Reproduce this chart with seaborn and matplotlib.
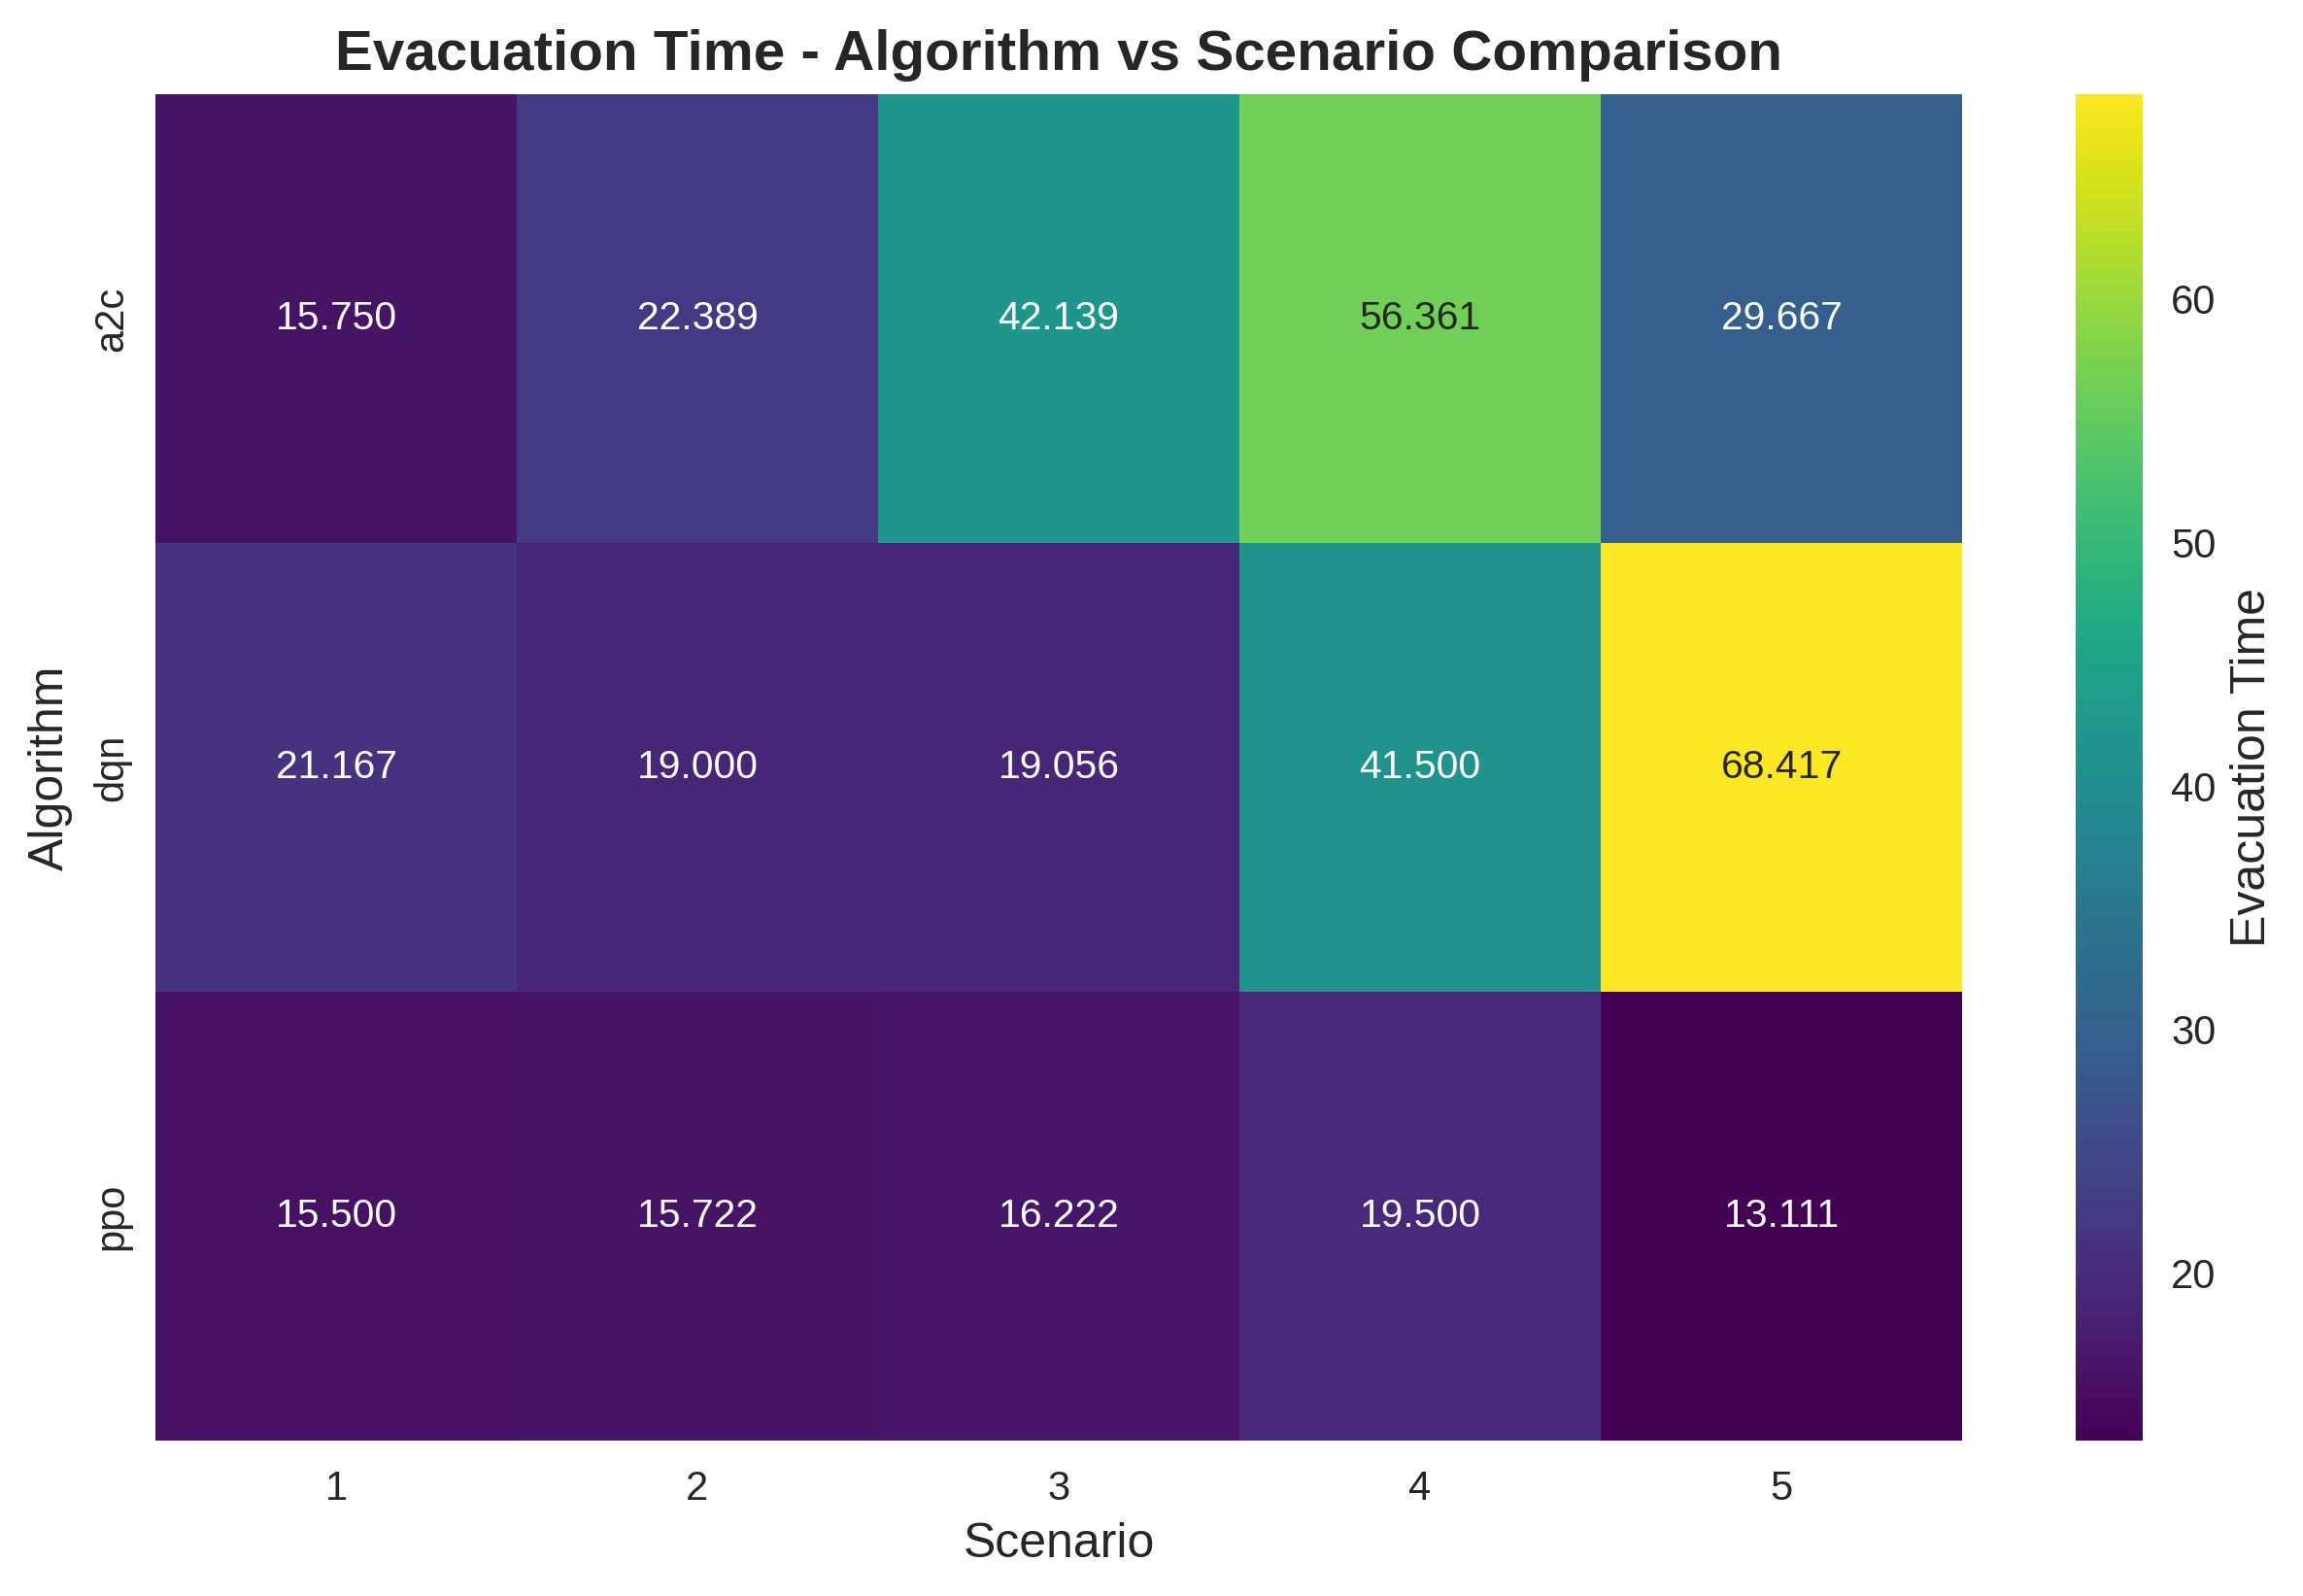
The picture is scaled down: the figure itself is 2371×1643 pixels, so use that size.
import pandas as pd
import seaborn as sns
import matplotlib.pyplot as plt

sns.set_style("whitegrid")
plt.rcParams["font.family"] = ["Liberation Sans", "DejaVu Sans"]

algorithms = ["a2c", "dqn", "ppo"]
scenarios = [1, 2, 3, 4, 5]
a2c_times = [15.750, 22.389, 42.139, 56.361, 29.667]
dqn_times = [21.167, 19.000, 19.056, 41.500, 68.417]
ppo_times = [15.500, 15.722, 16.222, 19.500, 13.111]

table = pd.DataFrame([a2c_times, dqn_times, ppo_times], index=algorithms, columns=scenarios)

fig = plt.figure(figsize=(2371 / 300, 1643 / 300), dpi=300)
ax = fig.add_axes([160 / 2371, 1 - 1483 / 1643, 1860 / 2371, 1386 / 1643])
cax = fig.add_axes([2137 / 2371, 1 - 1483 / 1643, 69 / 2371, 1386 / 1643])

sns.heatmap(table, annot=True, fmt=".3f", cmap="viridis", ax=ax, cbar_ax=cax,
            annot_kws={"size": 9.8}, cbar_kws={"label": "Evacuation Time"})

ax.set_title("Evacuation Time - Algorithm vs Scenario Comparison", fontsize=14, fontweight="bold", pad=6)
ax.set_xlabel("Scenario", fontsize=12, labelpad=3.3)
ax.set_ylabel("Algorithm", fontsize=12, labelpad=4.9)
ax.tick_params(axis="x", labelsize=10, length=0, pad=7.2)
ax.tick_params(axis="y", labelsize=10, length=0, pad=5.9)
cax.tick_params(labelsize=10, length=0, pad=7.0)
cax.set_ylabel("Evacuation Time", fontsize=12, labelpad=3.5)
cax.collections[0].set_edgecolor("face")
for spine in cax.spines.values():
    spine.set_visible(False)

fig.savefig("out.png", dpi=300)
